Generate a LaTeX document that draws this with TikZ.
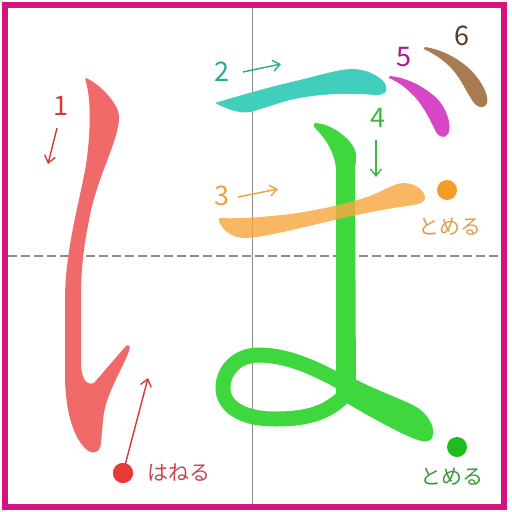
\documentclass[tikz,border=0pt]{standalone}
\usepackage{fontspec}
\setmainfont{Noto Sans CJK JP}
\usetikzlibrary{arrows.meta}
\definecolor{frame}{RGB}{212,18,128}
\definecolor{guide}{RGB}{140,140,140}
\definecolor{sred}{RGB}{240,106,106}
\definecolor{lred}{RGB}{210,58,58}
\definecolor{dred}{RGB}{232,56,56}
\definecolor{tred}{RGB}{200,70,85}
\definecolor{steal}{RGB}{66,206,188}
\definecolor{lteal}{RGB}{40,170,152}
\definecolor{sorange}{RGB}{248,168,66}
\definecolor{lorange}{RGB}{240,160,64}
\definecolor{dorange}{RGB}{245,155,40}
\definecolor{torange}{RGB}{222,160,80}
\definecolor{sgreen}{RGB}{62,216,62}
\definecolor{lgreen}{RGB}{60,185,60}
\definecolor{dgreen}{RGB}{30,188,30}
\definecolor{tgreen}{RGB}{58,155,58}
\definecolor{smag}{RGB}{216,70,200}
\definecolor{lmag}{RGB}{176,24,144}
\definecolor{sbrown}{RGB}{168,123,80}
\definecolor{lbrown}{RGB}{90,58,34}
\begin{document}
\begin{tikzpicture}[x=1pt,y=-1pt,
  num/.style={font=\fontsize{27}{27}\selectfont, inner sep=0pt},
  jp/.style={font=\fontsize{21}{21}\selectfont, inner sep=0pt},
  hint/.style={line width=1.4pt, -{Straight Barb[length=7pt,width=11pt,line width=1.4pt]}},
  dotmark/.style={circle, minimum size=20pt, inner sep=0pt}]
\useasboundingbox (0,0) rectangle (512,512);
\fill[white] (0,0) rectangle (512,512);
% guides
\draw[guide, line width=0.9pt] (252.5,8) -- (252.5,504);
\draw[guide, line width=1.3pt, dash pattern=on 9pt off 4pt] (8,256) -- (502,256);
% stroke 1
\fill[sred] (86,78) .. controls (100,84) and (119,104) .. (119,117)
 .. controls (119,140) and (98,175) .. (90,215)
 .. controls (84,245) and (81,265) .. (81,300)
 -- (81,362) .. controls (81,378) and (86,386) .. (94,383)
 -- (125,347) .. controls (129,343) and (131,346) .. (129,351)
 .. controls (122,370) and (105,395) .. (103,420)
 -- (101,443) .. controls (100,455) and (90,455) .. (83,446)
 .. controls (70,430) and (66,405) .. (65,380)
 -- (65,300) .. controls (65,250) and (80,200) .. (86,165)
 .. controls (91,130) and (91,100) .. (86,82)
 .. controls (85,79) .. cycle;
% stroke 2
\fill[steal] (215,103) .. controls (235,97) and (265,88) .. (300,80)
 .. controls (320,75) and (340,69) .. (352,69)
 .. controls (368,69) and (384,78) .. (386,86)
 .. controls (388,92) and (384,95) .. (376,95)
 .. controls (350,93) and (320,93) .. (290,100)
 .. controls (275,104) and (262,109) .. (250,112)
 .. controls (238,114) and (225,108) .. cycle;
% stroke 5
\fill[smag] (390,76) .. controls (410,78) and (430,90) .. (440,102)
 .. controls (448,112) and (452,128) .. (448,134)
 .. controls (445,139) and (439,137) .. (436,132)
 .. controls (430,120) and (424,106) .. (412,94)
 .. controls (404,86) and (396,81) .. (391,79)
 .. controls (388,78) .. cycle;
% stroke 6
\fill[sbrown] (425,47) .. controls (445,50) and (465,62) .. (476,76)
 .. controls (485,87) and (490,100) .. (486,105)
 .. controls (483,109) and (477,107) .. (474,103)
 .. controls (466,92) and (462,80) .. (452,69)
 .. controls (443,59) and (432,53) .. (426,50)
 .. controls (423,49) .. cycle;
% stroke 4
\fill[sgreen] (315,123) .. controls (332,124) and (350,138) .. (355,150)
 .. controls (357,156) and (356,162) .. (355,168)
 -- (356,395) -- (336,395) -- (336,170)
 .. controls (335,150) and (322,135) .. (316,129)
 .. controls (313,126) and (313,123) .. cycle;
\draw[sgreen, line width=15pt] (348,392) .. controls (330,412) and (310,419) .. (275,419)
 .. controls (240,419) and (223,405) .. (223,388)
 .. controls (223,368) and (240,355) .. (258,355)
 .. controls (290,355) and (320,370) .. (355,390);
\fill[sgreen] (340,380) -- (357,380) .. controls (380,392) and (405,400) .. (418,408)
 .. controls (430,416) and (436,430) .. (432,438)
 .. controls (428,444) and (420,441) .. (410,437)
 .. controls (390,428) and (365,414) .. (345,402) -- cycle;
% stroke 3
\fill[sorange, opacity=0.82] (219,218) .. controls (240,219) and (265,217) .. (290,214)
 .. controls (320,210) and (350,203) .. (370,196)
 .. controls (385,190) and (395,183) .. (404,183)
 .. controls (415,183) and (426,191) .. (425,199)
 .. controls (424,204) and (414,205) .. (400,207)
 .. controls (380,210) and (355,215) .. (330,221)
 .. controls (300,228) and (270,236) .. (248,238)
 .. controls (235,239) and (224,232) .. (221,225)
 .. controls (219,222) .. cycle;
% labels and hints
\node[num, text=lred] (n1) at (61,106) {1};
\node[num, text=lteal] (n2) at (222,72) {2};
\node[num, text=lorange] (n3) at (222,196) {3};
\node[num, text=lgreen] (n4) at (378,118) {4};
\node[num, text=lmag] (n5) at (404,57) {5};
\node[num, text=lbrown] (n6) at (462,36) {6};
\coordinate (a1s) at (57,128); \coordinate (a1e) at (48,164);
\coordinate (a2s) at (243,72); \coordinate (a2e) at (281,64);
\coordinate (a3s) at (238,197); \coordinate (a3e) at (278,189);
\coordinate (a4s) at (376,140); \coordinate (a4e) at (376,177);
\coordinate (a5e) at (148,378);
\draw[hint, lred] (a1s) -- (a1e);
\draw[hint, lteal] (a2s) -- (a2e);
\draw[hint, lorange] (a3s) -- (a3e);
\draw[hint, lgreen] (a4s) -- (a4e);
\node[dotmark, fill=dred] (d1) at (123,473) {};
\draw[hint, lred] (d1.center) -- (a5e);
\node[dotmark, fill=dred] at (123,473) {};
\node[jp, text=tred] (t1) at (179,473) {はねる};
\node[dotmark, fill=dorange] (d3) at (447,190) {};
\node[jp, text=torange] (t3) at (450,227) {とめる};
\node[dotmark, fill=dgreen] (d4) at (457,447) {};
\node[jp, text=tgreen] (t4) at (452,477) {とめる};
% frame
\draw[frame, line width=6pt] (4.5,5) rectangle (503.5,507);
\end{tikzpicture}
\end{document}
